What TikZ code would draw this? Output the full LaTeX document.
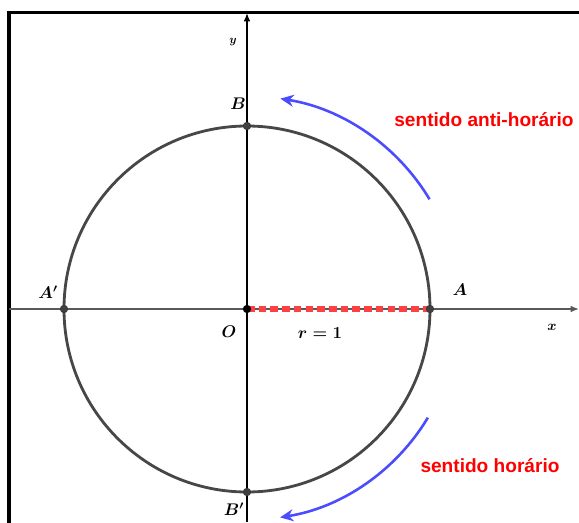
\documentclass[tikz,border=0pt]{standalone}
\usepackage{fontspec}
\newfontfamily\labelfont{Liberation Sans}
\usetikzlibrary{arrows.meta}
\tikzset{
  dot/.style={
    circle,
    fill=black!75,
    draw=black!80,
    inner sep=0pt,
    minimum size=2.3mm
  },
  axis/.style={-{Latex[length=2.5mm,width=2mm]},line width=1.2pt},
  circ/.style={draw=black!72,line width=2.4pt},
  radius line/.style={red!75,line width=4.6pt,dash pattern=on 6.5pt off 3.5pt},
  turn/.style={-{Stealth[length=4mm,width=3.6mm]},blue!70,line width=2.2pt},
  point label/.style={font=\Large\boldmath},
  sense/.style={text=red,font=\labelfont\bfseries\fontsize{16.3}{18}\selectfont}
}

\begin{document}
\begin{tikzpicture}[x=0.03cm,y=0.03cm]
  \useasboundingbox (-247,-213) rectangle (332,309);

  % Frame, cut by the picture's edge.
  \draw[line width=3pt] (-238,-300) -- (-238,296.5) -- (400,296.5);

  % Axes.
  \coordinate (xstart) at (-238,0);
  \coordinate (xend) at (332,0);
  \coordinate (ystart) at (0,-213);
  \coordinate (yend) at (0,296);
  \draw[axis,black!65] (xstart) -- (xend);
  \draw[axis] (ystart) -- (yend);
  \node[point label,font=\large\boldmath] (xl) at (305,-18) {$x$};
  \node[point label,font=\normalsize\boldmath] (yl) at (-14,267) {$y$};

  % Unit circle.
  \draw[circ] (0,0) circle[radius=183];

  \coordinate (O) at (0,0);
  \coordinate (A) at (183,0);
  \draw[radius line] (O) -- (A);

  \node[dot,fill=black,draw=black] (Odot) at (O) {};
  \node[dot] (Adot) at (A) {};
  \node[dot] (Bdot) at (0,183) {};
  \node[dot] (A'dot) at (-183,0) {};
  \node[dot] (B'dot) at (0,-183) {};

  \node[point label] (Ol) at (-18,-23) {$O$};
  \node[point label] (Al) at (213,19) {$A$};
  \node[point label] (Bl) at (-9,205) {$B$};
  \node[point label] (A'l) at (-199,17) {$A'$};
  \node[point label] (B'l) at (-13,-200) {$B'$};
  \node[point label] (rl) at (73,-24) {$r=1$};

  % Direction arrows.
  \draw[turn] (31:213) arc[start angle=31,end angle=81,radius=213];
  \draw[turn] (-31:211) arc[start angle=-31,end angle=-81,radius=211];
  \node[sense] (ccw) at (237,189) {sentido anti-horário};
  \node[sense] (cw) at (243,-157) {sentido horário};
\end{tikzpicture}
\end{document}
